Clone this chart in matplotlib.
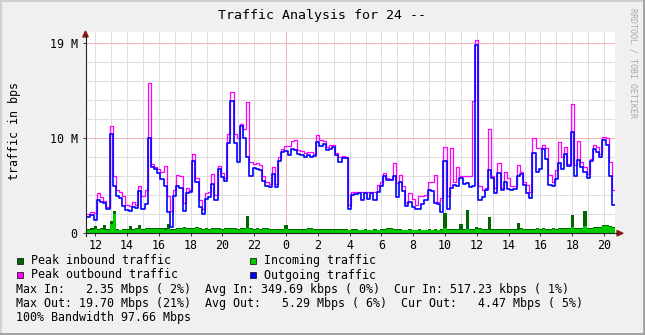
import numpy as np
import matplotlib.pyplot as plt
from matplotlib.patches import Rectangle, Polygon
from matplotlib.lines import Line2D

plt.rcParams['font.family'] = 'DejaVu Sans Mono'

# samples every 12 minutes, hours relative to midnight
start_hour = -12.5
step_hour = 0.2

# values in Mbit/s
outgoing = [1.7, 1.9, 1.4, 3.5, 3.3, 3.2, 2.6, 10.5, 5.0, 3.9, 3.7, 2.9, 2.5, 2.4, 2.8, 2.7, 4.5, 2.6, 3.1, 10.0,
            7.0, 6.8, 6.4, 5.7, 5.0, 2.2, 0.7, 3.9,
            5.0, 4.8, 2.4, 4.2, 4.3, 7.6, 5.4, 2.8, 2.0, 3.6, 3.8, 5.2, 3.5, 6.8, 5.9, 5.5, 9.5, 13.9, 9.5, 7.5,
            11.3, 10.0, 8.0, 6.0, 6.9, 6.8, 6.7, 5.5, 5.0,
            4.9, 6.2, 4.9, 7.6, 8.6, 8.7, 8.2, 8.9, 8.8, 8.4, 8.2, 8.0, 8.2, 8.0, 8.1, 9.6, 9.2, 9.4, 8.8, 8.9,
            9.1, 8.2, 7.5, 7.9, 7.9, 2.6, 4.0, 4.1,
            4.2, 3.5, 4.2, 3.6, 4.2, 3.5, 4.3, 5.0, 6.0, 5.6, 5.6, 6.0, 3.8, 5.4, 4.5, 2.9, 3.3, 2.8, 2.6, 2.6,
            3.1, 3.5, 4.6, 4.5, 3.2, 3.1, 2.2,
            7.6, 2.6, 4.8, 5.1, 5.0, 5.8, 5.2, 5.3, 4.9, 5.0, 19.8, 3.5, 3.8, 4.6, 6.7, 5.8, 4.2, 6.3, 4.6, 5.4,
            4.7, 4.6, 4.7, 6.0, 6.2, 5.1, 4.2, 3.7,
            8.5, 6.5, 6.8, 8.9, 7.8, 5.1, 5.0, 5.7, 7.4, 6.8, 8.4, 7.1, 10.7, 6.0, 7.7, 7.0, 6.5, 5.8, 7.6, 8.9,
            8.6, 8.0, 9.8, 9.3, 6.0, 3.0]

peak_out = [2.0, 2.2, 2.1, 4.2, 3.8, 3.4, 2.8, 11.3, 6.0, 4.6, 4.4, 3.9, 3.0, 2.9, 3.3, 3.0, 5.0, 3.9, 4.6, 15.8,
            7.3, 7.0, 6.8, 6.5, 7.1, 3.9, 2.3, 4.6,
            6.1, 6.0, 3.2, 4.8, 4.6, 8.3, 5.8, 3.5, 2.6, 4.2, 4.4, 6.2, 4.0, 7.1, 6.3, 5.8, 10.5, 14.9, 10.5, 10.0,
            11.5, 11.0, 13.8, 7.5, 7.3, 7.4, 7.2, 6.0, 5.4,
            5.2, 7.0, 5.2, 8.0, 8.9, 9.2, 9.2, 9.7, 9.8, 8.8, 8.7, 8.5, 8.6, 8.6, 8.4, 10.3, 9.8, 9.7, 9.1, 9.3,
            9.3, 8.5, 8.0, 8.1, 8.0, 3.0, 4.4, 4.4,
            4.4, 4.3, 4.4, 4.3, 4.4, 4.3, 5.1, 5.4, 6.3, 5.8, 5.7, 7.4, 5.3, 6.1, 5.0, 3.2, 4.2, 3.6, 3.0, 3.9,
            3.9, 4.0, 5.4, 5.4, 6.1, 3.3, 3.7,
            9.1, 3.9, 9.0, 5.4, 7.0, 6.0, 6.0, 6.0, 6.0, 13.9, 20.4, 5.0, 4.6, 4.8, 11.0, 6.0, 4.8, 7.4, 4.8, 6.5,
            5.8, 5.0, 5.0, 7.2, 6.5, 5.4, 5.1, 4.3,
            10.0, 9.0, 9.0, 9.3, 9.0, 6.1, 5.4, 6.7, 9.6, 8.0, 9.1, 7.3, 13.6, 7.2, 9.7, 7.5, 7.0, 6.2, 7.8, 9.3,
            9.1, 8.4, 10.1, 10.0, 7.5, 4.6]

incoming = [0.3, 0.4, 0.45, 0.35, 0.45, 0.4, 0.35, 1.0, 2.0, 0.4, 0.3, 0.3, 0.35, 0.35, 0.4, 0.45, 0.45, 0.4,
            0.45, 0.45, 0.5, 0.45, 0.45, 0.5, 0.4, 0.45, 0.4, 0.4,
            0.45, 0.5, 0.55, 0.5, 0.45, 0.5, 0.55, 0.45, 0.4, 0.45, 0.4, 0.45, 0.5, 0.45, 0.4, 0.45, 0.5, 0.5,
            0.45, 0.4, 0.45, 0.45, 0.6, 0.45, 0.4, 0.45, 0.4, 0.5, 0.45,
            0.4, 0.35, 0.4, 0.35, 0.4, 0.45, 0.4, 0.4, 0.35, 0.4, 0.35, 0.4, 0.45, 0.45, 0.4, 0.35, 0.4, 0.35,
            0.4, 0.35, 0.35, 0.4, 0.35, 0.35, 0.4, 0.3, 0.35, 0.35,
            0.3, 0.3, 0.35, 0.3, 0.3, 0.35, 0.3, 0.35, 0.4, 0.45, 0.45, 0.4, 0.35, 0.35, 0.3, 0.3, 0.35, 0.3,
            0.3, 0.35, 0.3, 0.3, 0.35, 0.3, 0.35, 0.3, 0.4,
            0.6, 0.4, 0.35, 0.4, 0.35, 0.4, 0.35, 0.45, 0.4, 0.4, 0.45, 0.5, 0.4, 0.35, 0.35, 0.4, 0.4, 0.35,
            0.35, 0.4, 0.35, 0.35, 0.4, 0.4, 0.45, 0.4, 0.4, 0.4,
            0.4, 0.45, 0.4, 0.45, 0.4, 0.4, 0.45, 0.4, 0.45, 0.5, 0.45, 0.5, 0.7, 0.5, 0.45, 0.5, 0.8, 0.5,
            0.5, 0.55, 0.55, 0.6, 0.75, 0.8, 0.7, 0.6]

peak_in = [0.45, 0.6, 0.8, 0.5, 0.55, 0.9, 0.45, 1.3, 2.35, 0.5, 0.4, 0.5, 0.45, 0.75, 0.5, 0.55, 0.9, 0.5,
           0.55, 0.55, 0.6, 0.55, 0.55, 0.6, 0.55, 0.95, 0.5, 0.5,
           0.55, 0.6, 0.65, 0.6, 0.55, 0.6, 0.65, 0.55, 0.5, 0.55, 0.5, 0.55, 0.6, 0.55, 0.5, 0.55, 0.6, 0.6,
           0.55, 0.5, 0.55, 0.55, 1.8, 0.55, 0.5, 0.55, 0.5, 0.6, 0.55,
           0.5, 0.45, 0.5, 0.45, 0.5, 0.9, 0.5, 0.5, 0.45, 0.5, 0.45, 0.5, 0.55, 0.6, 0.5, 0.45, 0.5, 0.45,
           0.5, 0.45, 0.45, 0.5, 0.45, 0.45, 0.5, 0.4, 0.45, 0.45,
           0.4, 0.4, 0.45, 0.4, 0.4, 0.45, 0.4, 0.45, 0.5, 0.6, 0.55, 0.5, 0.45, 0.45, 0.4, 0.4, 0.45, 0.4,
           0.4, 0.45, 0.4, 0.4, 0.45, 0.4, 0.45, 0.4, 0.5,
           2.1, 0.5, 0.45, 0.5, 0.45, 1.0, 0.45, 2.45, 0.5, 0.5, 0.7, 0.6, 0.5, 0.45, 1.7, 0.5, 0.5, 0.45,
           0.45, 0.5, 0.45, 0.45, 0.5, 1.1, 0.55, 0.5, 0.5, 0.5,
           0.5, 0.55, 0.5, 0.55, 0.5, 0.5, 0.55, 0.5, 0.55, 0.6, 0.55, 0.6, 1.9, 0.6, 0.55, 0.6, 2.3, 0.6,
           0.6, 0.65, 0.65, 0.7, 0.85, 0.9, 0.8, 0.7]

hour_ticks = [-12, -10, -8, -6, -4, -2, 0, 2, 4, 6, 8, 10, 12, 14, 16, 18, 20]
hour_labels = ["12", "14", "16", "18", "20", "22", "0", "2", "4", "6", "8", "10", "12", "14", "16", "18", "20"]
y_ticks = [0, 10, 20]
y_labels = ["0", "10 M", "19 M"]

legend_items = [("Peak inbound traffic", "#006600"), ("Incoming traffic", "#00cc00"),
                ("Peak outbound traffic", "#ff00ff"), ("Outgoing traffic", "#0000ff")]
stat_lines = ["Max In:   2.35 Mbps ( 2%)  Avg In: 349.69 kbps ( 0%)  Cur In: 517.23 kbps ( 1%)",
              "Max Out: 19.70 Mbps (21%)  Avg Out:   5.29 Mbps ( 6%)  Cur Out:   4.47 Mbps ( 5%)",
              "100% Bandwidth 97.66 Mbps"]

W, H = 645, 335


def fx(px):
    return px / W


def fy(py):
    return 1 - py / H


hours = start_hour + step_hour * np.arange(len(outgoing))
edges = np.append(hours, hours[-1] + step_hour)


def ext(vals):
    return np.append(vals, vals[-1])


fig = plt.figure(figsize=(6.45, 3.35), dpi=100, facecolor='#f0f0f0')
ax = fig.add_axes([fx(86), fy(233.3), fx(615) - fx(86), fy(32) - fy(233.3)])
ax.set_facecolor('white')

# grid
for h in range(-12, 21):
    ax.axvline(h, color='#f2b4b4' if h == 0 else '#dedede', lw=0.75, zorder=0)
for v in range(2, 21, 2):
    ax.axhline(v, color='#f2b4b4' if v % 10 == 0 else '#dedede', lw=0.75, zorder=0)

ax.fill_between(edges, ext(peak_in), step='post', color='#006600', lw=0, zorder=2)
ax.fill_between(edges, ext(incoming), step='post', color='#00cc00', lw=0, zorder=3)
ax.plot(edges, ext(peak_out), drawstyle='steps-post', color='#ff00ff', lw=0.9, zorder=4)
ax.plot(edges, ext(outgoing), drawstyle='steps-post', color='#0000ff', lw=1.2, zorder=5)

ax.set_xlim(-12.58, 20.69)
ax.set_ylim(0, 21.2)
ax.set_xticks(hour_ticks)
ax.set_xticklabels(hour_labels)
ax.set_yticks(y_ticks)
ax.set_yticklabels(y_labels)
ax.tick_params(labelsize=8.4, length=2, width=0.7, color='#333333', pad=2)
ax.tick_params(axis='y', pad=4)
for s in ['top', 'right', 'bottom', 'left']:
    ax.spines[s].set_visible(False)

# axes with arrows
fig.add_artist(Line2D([fx(85.5), fx(618)], [fy(233.3), fy(233.3)], color='#222222', lw=0.8))
fig.add_artist(Line2D([fx(85.5), fx(85.5)], [fy(236), fy(35)], color='#222222', lw=0.8))
fig.add_artist(Polygon([[fx(617), fy(230.5)], [fx(623), fy(233.3)], [fx(617), fy(236)]],
                       closed=True, color='#8b1a1a', transform=fig.transFigure))
fig.add_artist(Polygon([[fx(82.8), fy(37)], [fx(85.5), fy(31)], [fx(88.2), fy(37)]],
                       closed=True, color='#8b1a1a', transform=fig.transFigure))

fig.text(fx(322), fy(16), "Traffic Analysis for 24 --", ha='center', va='center', fontsize=9.5)
fig.text(fx(15), fy(131), "traffic in bps", rotation=90, ha='center', va='center', fontsize=8.4)
fig.text(fx(633), fy(8), "RRDTOOL / TOBI OETIKER", rotation=270, ha='center', va='top',
         fontsize=6, color='#aaaaaa')

# legend
box_pos = [(16.5, 260.7), (249.5, 260.7), (16.5, 275), (249.5, 275)]
for (label, color), (bx, by) in zip(legend_items, box_pos):
    fig.add_artist(Rectangle((fx(bx), fy(by + 3.3)), 6.5 / W, 6.5 / H, facecolor=color,
                             edgecolor='#000000', lw=0.5, transform=fig.transFigure))
    fig.text(fx(bx + 14.5), fy(by), label, ha='left', va='center', fontsize=8.4)

for i, line in enumerate(stat_lines):
    fig.text(fx(16), fy(289 + 14.2 * i), line, ha='left', va='center', fontsize=8.4)

# frame
fig.add_artist(Line2D([0, 1], [fy(0.5), fy(0.5)], color='#d0d0d0', lw=1.5))
fig.add_artist(Line2D([fx(0.5), fx(0.5)], [0, 1], color='#d0d0d0', lw=1.5))
fig.add_artist(Line2D([0, 1], [fy(334), fy(334)], color='#a0a0a0', lw=2))
fig.add_artist(Line2D([fx(644), fx(644)], [0, 1], color='#a0a0a0', lw=2))

fig.savefig('out.png', dpi=100, facecolor=fig.get_facecolor())
